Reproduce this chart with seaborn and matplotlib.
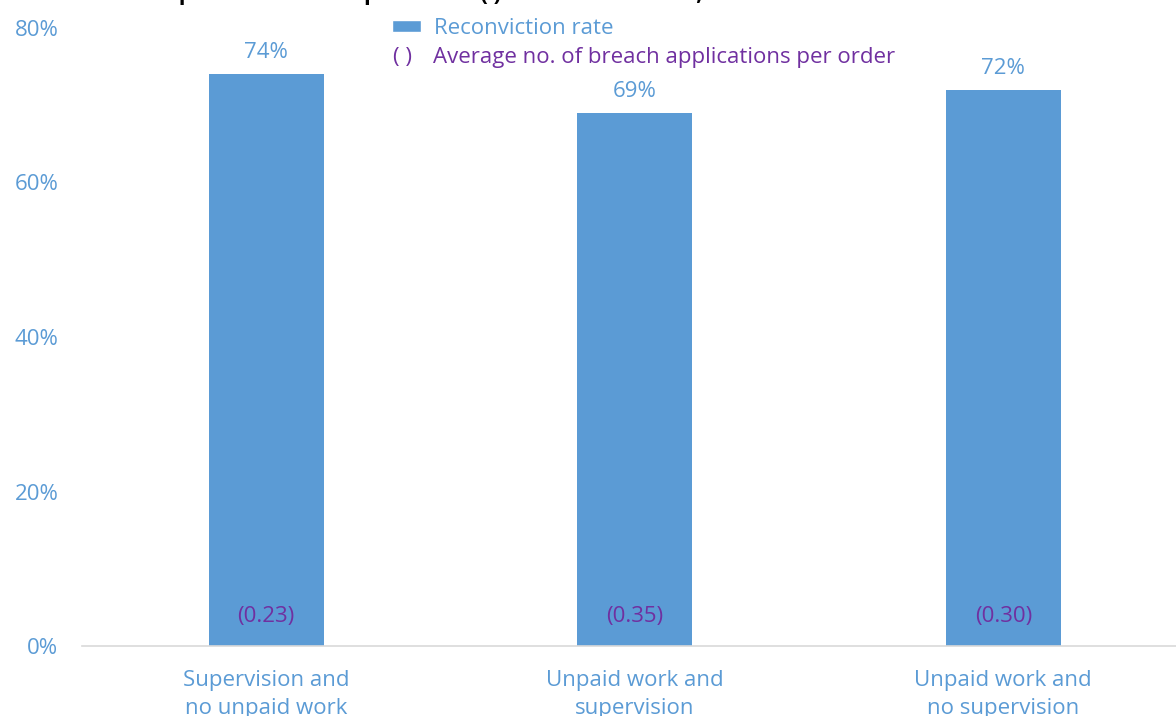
import matplotlib
matplotlib.use("Agg")
import matplotlib.pyplot as plt
from matplotlib.patches import Patch
from matplotlib.ticker import FixedLocator
import seaborn as sns
import pandas as pd

categories = ["Supervision and\nno unpaid work", "Unpaid work and\nsupervision", "Unpaid work and\nno supervision"]
reconviction_rate = [74, 69, 72]
breach_applications = [0.23, 0.35, 0.30]
y_ticks = [0, 20, 40, 60, 80]

BLUE = "#5B9BD5"
PURPLE = "#7030A0"
FS = 16

sns.set_theme(style="white")
plt.rcParams["font.family"] = ["Open Sans", "DejaVu Sans"]

df = pd.DataFrame({"group": categories, "rate": reconviction_rate})

fig = plt.figure(figsize=(11.76, 7.16), dpi=100)
ax = fig.add_axes([82 / 1176, 1 - 646 / 716, (1187.5 - 82) / 1176, (646 - 28) / 716])

sns.barplot(data=df, x="group", y="rate", color=BLUE, width=0.312, saturation=1,
            linewidth=0, ax=ax)

ax.set_xlim(-0.5, 2.5)
ax.set_ylim(0, 80)
ax.set_xlabel("")
ax.set_ylabel("")

ax.set_yticks(y_ticks)
ax.set_yticklabels([f"{v}%" for v in y_ticks], color=BLUE, fontsize=FS)
ax.tick_params(axis="y", length=0, pad=17)

ax.tick_params(axis="x", which="major", length=0, pad=17, labelsize=FS, labelcolor=BLUE)
for lbl in ax.get_xticklabels():
    lbl.set_linespacing(1.47)
ax.xaxis.set_minor_locator(FixedLocator([-0.5, 0.5, 1.5, 2.5]))
ax.tick_params(axis="x", which="minor", length=8, width=1, color="#D9D9D9", direction="out")

for side in ["left", "top", "right"]:
    ax.spines[side].set_visible(False)
ax.spines["bottom"].set_color("#D9D9D9")
ax.spines["bottom"].set_linewidth(1.2)

# value labels above bars and breach averages inside bars
for i, (rate, breach) in enumerate(zip(reconviction_rate, breach_applications)):
    ax.annotate(f"{rate}%", (i, rate), xytext=(0, 8), textcoords="offset points",
                ha="center", va="bottom", color=BLUE, fontsize=FS)
    ax.annotate(f"({breach:.2f})", (i, 0), xytext=(0, 21), textcoords="offset points",
                ha="center", va="center", color=PURPLE, fontsize=FS)

# legend
leg = ax.legend(handles=[Patch(facecolor=BLUE, label="Reconviction rate")],
                loc="center left", bbox_to_anchor=(392 / 1176, 1 - 28 / 716),
                bbox_transform=fig.transFigure, frameon=False, fontsize=FS,
                handlelength=1.3, handleheight=0.45, handletextpad=0.6,
                borderpad=0, borderaxespad=0)
for t in leg.get_texts():
    t.set_color(BLUE)
fig.text(393 / 1176, 1 - 57 / 716, "( )", color=PURPLE, fontsize=FS, ha="left", va="center")
fig.text(433 / 1176, 1 - 57 / 716, "Average no. of breach applications per order",
         color=PURPLE, fontsize=FS, ha="left", va="center")

# chart heading sits above the canvas top
fig.text(152 / 1176, 1.0, "Supervision and unpaid work ( ) reconviction rate,",
         color="black", fontsize=15.9, fontweight="bold", ha="left", va="baseline")

fig.savefig("out.png", dpi=100)
